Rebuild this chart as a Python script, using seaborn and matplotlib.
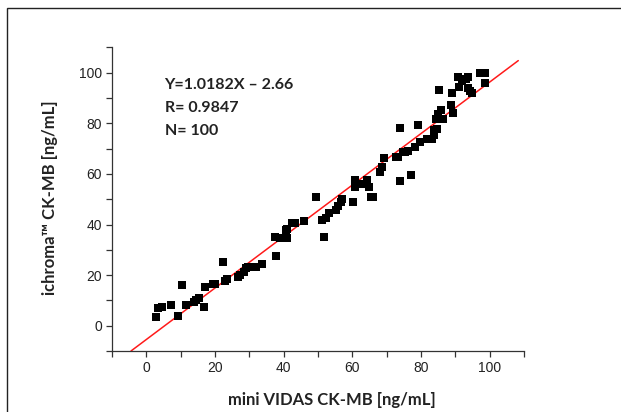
import matplotlib
matplotlib.use("Agg")
import matplotlib.pyplot as plt
from matplotlib.patches import Rectangle
from matplotlib.ticker import MultipleLocator
import numpy as np
import pandas as pd
import seaborn as sns

# values
vidas = [2.9, 3.4, 4.6, 7.1, 9.4, 10.3, 11.5, 13.8, 14.6, 15.5,
         16.7, 17.2, 19.5, 20.1, 22.4, 23.0, 23.6, 26.8, 27.2, 28.4,
         29.1, 29.5, 32.0, 33.6, 37.4, 37.7, 39.1, 41.0, 40.8, 41.1,
         42.5, 43.4, 46.0, 49.4, 51.1, 51.7, 52.3, 53.2, 55.2, 55.7,
         56.6, 56.9, 60.3, 60.7, 60.9, 63.2, 64.4, 64.9, 65.3, 66.1,
         68.0, 68.6, 69.2, 72.6, 73.2, 73.9, 73.9, 74.7, 75.3, 76.1,
         77.0, 78.2, 79.0, 79.7, 81.6, 82.5, 83.3, 83.9, 83.9, 84.5,
         84.3, 84.8, 85.3, 85.9, 86.4, 88.7, 88.9, 89.3, 90.8, 91.1,
         91.95, 92.5, 93.1, 93.7, 93.7, 94.3, 94.8, 97.1, 97.9, 98.6,
         98.6]
ichroma = [3.3, 7.0, 7.5, 8.1, 4.0, 15.9, 8.3, 9.3, 10.2, 10.9,
           7.3, 15.2, 16.3, 16.3, 25.0, 17.5, 18.5, 19.1, 19.9, 21.2,
           22.8, 23.2, 23.4, 24.5, 35.1, 27.7, 34.8, 34.8, 37.7, 38.3,
           40.7, 40.7, 41.5, 50.7, 41.7, 35.1, 42.4, 44.4, 45.7, 47.4,
           49.0, 49.9, 49.0, 55.0, 57.6, 56.0, 57.6, 55.0, 50.7, 50.7,
           60.8, 62.6, 66.4, 66.6, 66.6, 78.1, 57.0, 68.5, 68.7, 69.0,
           59.7, 70.5, 79.5, 72.8, 73.8, 73.8, 73.8, 75.5, 77.5, 77.7,
           81.7, 83.7, 93.1, 85.4, 81.5, 87.4, 92.1, 84.1, 98.3, 94.4,
           96.7, 97.6, 97.4, 98.3, 94.0, 92.7, 91.8, 99.7, 99.7, 99.7,
           95.8]

# fitted line as drawn on the chart
fit_slope = 1.0182
fit_offset = -5.5
fit_range = [-4.4, 108.3]
fit_text = ["Y=1.0182X \u2013 2.66", "R= 0.9847", "N= 100"]

df = pd.DataFrame({"vidas": vidas, "ichroma": ichroma})

sns.set_style("ticks")
plt.rcParams["font.family"] = ["Liberation Sans Narrow", "Liberation Sans", "DejaVu Sans"]

fig = plt.figure(figsize=(6.21, 4.12), dpi=100)
ax = fig.add_axes([0.180, 0.148, 0.664, 0.737])

line_x = np.array(fit_range)
ax.plot(line_x, fit_slope * line_x + fit_offset, color="#ff1a1a", lw=1.1, zorder=2)
sns.scatterplot(data=df, x="vidas", y="ichroma", marker="s", color="black",
                s=26, linewidth=0, ax=ax, zorder=3)

ax.set_xlim(-10, 110)
ax.set_ylim(-10, 110)
ax.xaxis.set_minor_locator(MultipleLocator(10))
ax.yaxis.set_minor_locator(MultipleLocator(10))
ax.set_xticks([0, 20, 40, 60, 80, 100])
ax.set_yticks([0, 20, 40, 60, 80, 100])
ax.tick_params(which="both", direction="out", length=4, width=0.9,
               color="#333333", labelsize=10, labelcolor="#222222", pad=3)
sns.despine(ax=ax)
for side in ["left", "bottom"]:
    ax.spines[side].set_linewidth(0.9)
    ax.spines[side].set_color("#333333")

bold = dict(family=["Lato", "DejaVu Sans"], fontweight="bold", color="#222222")
ax.set_xlabel("mini VIDAS CK-MB [ng/mL]", fontsize=12, **bold)
ax.set_ylabel("ichroma\u2122 CK-MB [ng/mL]", fontsize=12, **bold)
ax.xaxis.set_label_coords(0.534, -0.135)
ax.yaxis.set_label_coords(-0.13, 0.505)

for i, t in enumerate(fit_text):
    ax.text(0.128, 0.875 - i * 0.075, t, transform=ax.transAxes, fontsize=11.5,
            va="center", ha="left", **bold)

fig.patches.append(Rectangle((7 / 621, -0.1), 2, 1.1 - 8 / 412, transform=fig.transFigure,
                             fill=False, edgecolor="#222222", lw=1.0))

fig.savefig("out.png", dpi=100)
